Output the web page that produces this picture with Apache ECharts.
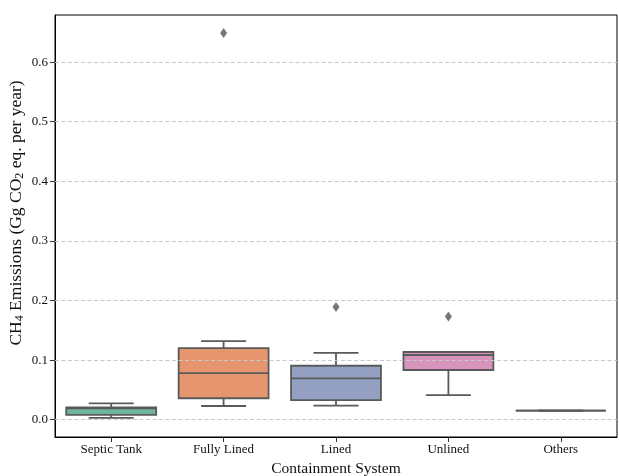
<!DOCTYPE html>
<html>
<head>
<meta charset="utf-8">
<script src="https://cdn.jsdelivr.net/npm/echarts@6/dist/echarts.min.js"></script>
<style>
html,body{margin:0;padding:0;background:#fff;}
#chart{width:619px;height:476px;}
</style>
</head>
<body>
<div id="chart"></div>
<script>
// ---- data ----
const categories = ['Septic Tank', 'Fully Lined', 'Lined', 'Unlined', 'Others'];
// [min whisker, Q1, median, Q3, max whisker]
const septicTank = [0.003, 0.008, 0.019, 0.0205, 0.0275];
const fullyLined = [0.023, 0.036, 0.078, 0.120, 0.132];
const lined      = [0.0235, 0.033, 0.0695, 0.0905, 0.112];
const unlined    = [0.0414, 0.0834, 0.1086, 0.1136, 0.1136];
const others     = [0.0151, 0.0151, 0.0151, 0.0151, 0.0151];
// outliers: [category index, value]
const outliers = [[1, 0.649], [2, 0.189], [3, 0.173]];
const yTicks = [0, 0.1, 0.2, 0.3, 0.4, 0.5, 0.6];

const palette = ['#70b49d', '#e6966f', '#93a0c1', '#d894bd', '#a6c86a'];
const lineColor = '#5a5a5a';
const FONT = '"Liberation Serif", "DejaVu Serif", serif';

const boxes = [septicTank, fullyLined, lined, unlined, others];
const boxData = boxes.map((b, i) => [i].concat(b));

const chart = echarts.init(document.getElementById('chart'), null, {renderer: 'canvas'});

function renderBox(params, api) {
  const x = api.value(0);
  const p = [1, 2, 3, 4, 5].map(k => api.coord([x, api.value(k)]));
  const cx = p[0][0];
  const band = api.size([1, 0])[0];
  const bw = band * 0.8;
  const cw = bw * 0.5;
  const lw = 1.8;
  const ls = {stroke: lineColor, lineWidth: lw, fill: null};
  const idx = params.dataIndex;
  return {
    type: 'group',
    children: [
      {type: 'line', shape: {x1: cx, y1: p[0][1], x2: cx, y2: p[1][1]}, style: ls},
      {type: 'line', shape: {x1: cx, y1: p[3][1], x2: cx, y2: p[4][1]}, style: ls},
      {type: 'line', shape: {x1: cx - cw / 2, y1: p[0][1], x2: cx + cw / 2, y2: p[0][1]}, style: ls},
      {type: 'line', shape: {x1: cx - cw / 2, y1: p[4][1], x2: cx + cw / 2, y2: p[4][1]}, style: ls},
      {type: 'rect', shape: {x: cx - bw / 2, y: p[3][1], width: bw, height: p[1][1] - p[3][1]},
        style: {fill: palette[idx], stroke: lineColor, lineWidth: lw}},
      {type: 'line', shape: {x1: cx - bw / 2, y1: p[2][1], x2: cx + bw / 2, y2: p[2][1]}, style: ls}
    ]
  };
}

const option = {
  animation: false,
  backgroundColor: '#ffffff',
  grid: {left: 55, top: 15, right: 2, bottom: 39, show: true, borderColor: '#000', borderWidth: 1,
    backgroundColor: 'transparent', containLabel: false, outerBoundsMode: 'none'},
  xAxis: {
    type: 'category',
    data: categories,
    boundaryGap: true,
    axisLine: {show: true, onZero: false, lineStyle: {color: '#000', width: 1}},
    axisTick: {show: true, alignWithLabel: true, length: 5, lineStyle: {color: '#333'}},
    axisLabel: {fontFamily: FONT, fontSize: 13, color: '#111', margin: 6},
    name: 'Containment System',
    nameLocation: 'middle',
    nameGap: 24,
    nameMoveOverlap: false,
    nameTextStyle: {fontFamily: FONT, fontSize: 15.5, color: '#111'},
    splitLine: {show: false}
  },
  yAxis: {
    type: 'value',
    min: -0.029,
    max: 0.679,
    axisLine: {show: true, lineStyle: {color: '#000', width: 1}},
    axisTick: {show: true, length: 5, lineStyle: {color: '#333'}, customValues: yTicks},
    axisLabel: {fontFamily: FONT, fontSize: 13, color: '#111', margin: 7, customValues: yTicks,
      formatter: v => v.toFixed(1)},
    splitLine: {show: false},
    name: '{n|CH}{s|4}{n| Emissions (Gg CO}{s|2}{n| eq. per year)}',
    nameLocation: 'middle',
    nameRotate: 90,
    nameGap: 29,
    nameMoveOverlap: false,
    nameTextStyle: {
      fontFamily: FONT, fontSize: 17.5, color: '#111',
      padding: [0, 0, 0, 26],
      rich: {
        n: {fontFamily: FONT, fontSize: 17.5, color: '#111'},
        s: {fontFamily: FONT, fontSize: 12, color: '#111', padding: [8, 0, 0, 0]}
      }
    }
  },
  series: [
    {
      type: 'custom',
      renderItem: renderBox,
      data: boxData,
      encode: {x: 0, y: [1, 2, 3, 4, 5]},
      z: 2
    },
    {
      type: 'scatter',
      data: outliers,
      symbol: 'diamond',
      symbolSize: [7, 10],
      itemStyle: {color: '#555555'},
      z: 3
    },
    {
      type: 'line',
      data: [],
      z: 4,
      markLine: {
        silent: true,
        symbol: 'none',
        label: {show: false},
        lineStyle: {color: '#c8c8c8', type: [4, 2.5], width: 1},
        data: yTicks.map(v => ({yAxis: v}))
      }
    }
  ]
};
chart.setOption(option);
</script>
</body>
</html>
